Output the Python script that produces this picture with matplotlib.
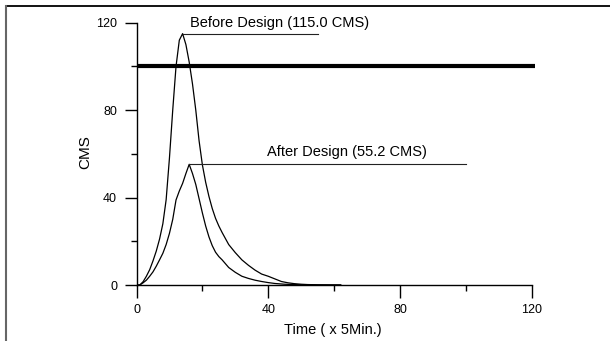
import matplotlib
matplotlib.use('Agg')
import matplotlib.pyplot as plt
from matplotlib.lines import Line2D
from matplotlib.ticker import MultipleLocator

plt.rcParams['font.family'] = ['Liberation Sans', 'DejaVu Sans']

# hydrograph before design (time in 5-min steps, discharge in CMS)
t_before = [0, 1, 2, 3, 4, 5, 6, 7, 8, 9, 10, 11, 12, 13, 14, 15, 16, 17, 18, 19,
            20, 21, 22, 23, 24, 25, 26, 28, 30, 32, 34, 36, 38, 40, 42, 44, 46,
            48, 50, 52, 55, 62]
q_before = [0, 0, 1.5, 4, 7, 11, 15.5, 21, 28, 39, 58, 80, 100, 112, 115.0, 110,
            102, 92, 80, 66, 55, 47, 40.5, 35, 30.5, 27, 24, 18.5, 14.8, 11.5, 9,
            6.8, 5, 4, 2.8, 1.6, 1.0, 0.6, 0.35, 0.2, 0.1, 0]

# hydrograph after design
t_after = [0, 1, 2, 3, 4, 5, 6, 7, 8, 9, 10, 11, 12, 13, 14, 15, 16, 17, 18, 19,
           20, 21, 22, 23, 24, 25, 26, 28, 30, 32, 34, 36, 38, 40, 42, 45, 50,
           55, 62]
q_after = [0, 0, 1, 2.2, 4, 6, 8.6, 11.5, 14.5, 18.5, 23.6, 30, 38.9, 43, 46.5,
           51, 55.2, 51, 46, 39.5, 33, 27, 22, 18, 15, 13, 11.5, 8, 5.8, 4, 3,
           2.2, 1.6, 1.1, 0.7, 0.35, 0.1, 0, 0]

limit_q = 100
limit_t = [0, 121]

before_label = 'Before Design (115.0 CMS)'
after_label = 'After Design (55.2 CMS)'
before_peak = (14, 115.0, 55)   # peak time, peak value, end of leader line
after_peak = (16, 55.2, 100)

fig = plt.figure(figsize=(6.1, 3.41), dpi=100)
ax = fig.add_axes([136.5 / 610, 56 / 341, 395.2 / 610, 262.3 / 341])

ax.plot(t_before, q_before, color='black', lw=0.9)
ax.plot(t_after, q_after, color='black', lw=0.9)
ax.plot(limit_t, [limit_q, limit_q], color='black', lw=3.0, clip_on=False,
        solid_capstyle='butt')

for pk in (before_peak, after_peak):
    ax.plot([pk[0], pk[2]], [pk[1], pk[1]], color='#222222', lw=0.8)

ax.text(16.1, 119.7, before_label, fontsize=10.5, va='center', ha='left')
ax.text(39.7, 61.0, after_label, fontsize=10.5, va='center', ha='left')

ax.set_xlim(0, 120)
ax.set_ylim(0, 120)
ax.xaxis.set_major_locator(MultipleLocator(40))
ax.xaxis.set_minor_locator(MultipleLocator(20))
ax.yaxis.set_major_locator(MultipleLocator(40))
ax.yaxis.set_minor_locator(MultipleLocator(20))

for s in ('top', 'right'):
    ax.spines[s].set_visible(False)
for s in ('left', 'bottom'):
    ax.spines[s].set_linewidth(1.0)

ax.tick_params(which='major', length=9, width=1.0, labelsize=9, pad=5)
ax.tick_params(which='minor', length=4, width=1.0)

ax.set_xlabel('Time ( x 5Min.)', fontsize=10.5, va='center')
ax.set_ylabel('CMS', fontsize=11, va='center')
ax.xaxis.set_label_coords(0.497, -0.172)
ax.yaxis.set_label_coords(-0.130, 0.507)

# frame of the original figure (only top and left edges visible)
fig.add_artist(Line2D([6 / 610, 1], [1 - 6 / 341, 1 - 6 / 341],
                      transform=fig.transFigure, color='black', lw=1.3))
fig.add_artist(Line2D([6 / 610, 6 / 610], [0, 1 - 6 / 341],
                      transform=fig.transFigure, color='#666666', lw=1.5))

fig.savefig('out.png', dpi=100)
